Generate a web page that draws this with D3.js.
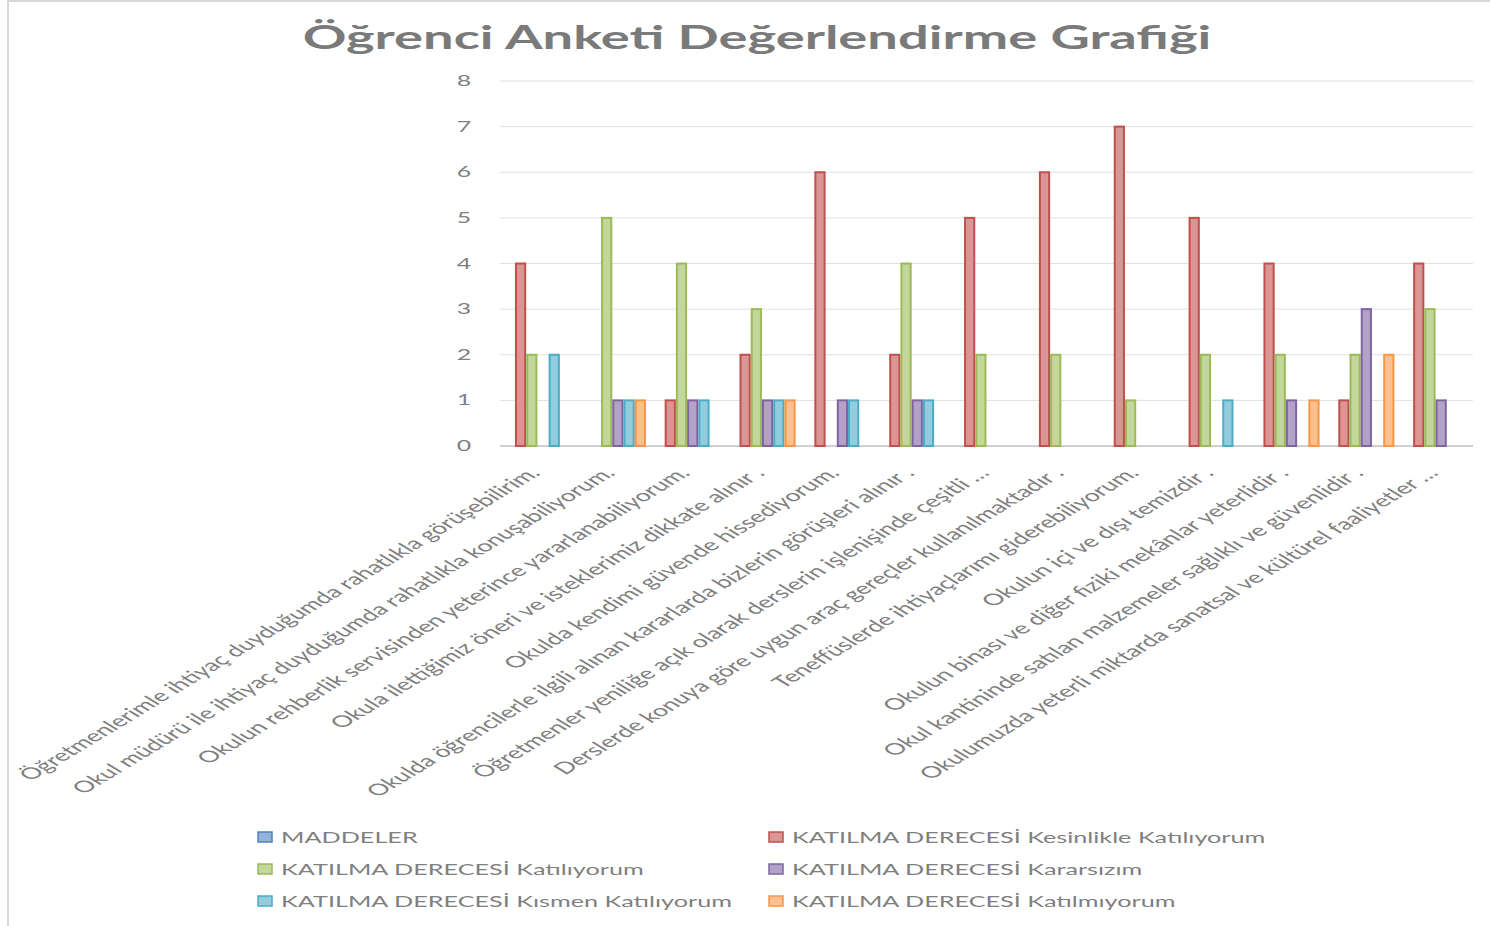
<!DOCTYPE html>
<html>
<head>
<meta charset="utf-8">
<script src="https://cdn.jsdelivr.net/npm/d3@7"></script>
<style>
  html, body { margin: 0; padding: 0; background: #fff; }
  svg { display: block; font-family: Lato, "Open Sans", sans-serif; }
</style>
</head>
<body>
<svg id="chart"></svg>
<script>
// DATA
const categories = [
  "Öğretmenlerimle ihtiyaç duyduğumda rahatlıkla görüşebilirim.",
  "Okul müdürü ile ihtiyaç duyduğumda rahatlıkla konuşabiliyorum.",
  "Okulun rehberlik servisinden yeterince yararlanabiliyorum.",
  "Okula ilettiğimiz öneri ve isteklerimiz dikkate alınır .",
  "Okulda kendimi güvende hissediyorum.",
  "Okulda öğrencilerle ilgili alınan kararlarda bizlerin görüşleri alınır .",
  "Öğretmenler yeniliğe açık olarak derslerin işlenişinde çeşitli …",
  "Derslerde konuya göre uygun araç gereçler kullanılmaktadır .",
  "Teneffüslerde ihtiyaçlarımı giderebiliyorum.",
  "Okulun içi ve dışı temizdir .",
  "Okulun binası ve diğer fiziki mekânlar yeterlidir .",
  "Okul kantininde satılan malzemeler  sağlıklı ve güvenlidir .",
  "Okulumuzda yeterli miktarda sanatsal ve kültürel faaliyetler …"
];
const seriesNames = [
  "MADDELER",
  "KATILMA DERECESİ Kesinlikle  Katılıyorum",
  "KATILMA DERECESİ Katılıyorum",
  "KATILMA DERECESİ Kararsızım",
  "KATILMA DERECESİ Kısmen  Katılıyorum",
  "KATILMA DERECESİ Katılmıyorum"
];
const maddeler      = [0, 0, 0, 0, 0, 0, 0, 0, 0, 0, 0, 0, 0];
const kesinlikle    = [4, 0, 1, 2, 6, 2, 5, 6, 7, 5, 4, 1, 4];
const katiliyorum   = [2, 5, 4, 3, 0, 4, 2, 2, 1, 2, 2, 2, 3];
const kararsizim    = [0, 1, 1, 1, 1, 1, 0, 0, 0, 0, 1, 3, 1];
const kismen        = [2, 1, 1, 1, 1, 1, 0, 0, 0, 1, 0, 0, 0];
const katilmiyorum  = [0, 1, 0, 1, 0, 0, 0, 0, 0, 0, 1, 2, 0];
const seriesValues = [maddeler, kesinlikle, katiliyorum, kararsizim, kismen, katilmiyorum];
const yTicks = [0, 1, 2, 3, 4, 5, 6, 7, 8];

// SETTINGS
const _width = 1490, _height = 926;
const _stretch = 1.66;
const _plot = {left: 500, right: 1473, top: 81, bottom: 446};
const _color = {
  text: '#7f7f7f',
  grid: '#d9d9d9',
  stroke: ['#4f81bd', '#c0504d', '#9bbb59', '#8064a2', '#4bacc6', '#f79646'],
  fill:   ['#95b3d7', '#d99694', '#c3d69b', '#b3a2c7', '#93cddd', '#fac090']
};

let svg = d3.select('#chart')
              .attr('width', _width)
              .attr('height', _height);

// BORDER
svg.append('line')
      .attr('x1', 8).attr('x2', 8)
      .attr('y1', 0).attr('y2', _height)
      .attr('stroke', _color.grid).attr('stroke-width', 2);
svg.append('line')
      .attr('x1', 8).attr('x2', _width)
      .attr('y1', 1).attr('y2', 1)
      .attr('stroke', _color.grid).attr('stroke-width', 2);

// TITLE
svg.append('text')
      .attr('transform', `translate(757, 49) scale(${_stretch}, 1)`)
      .attr('text-anchor', 'middle')
      .attr('font-size', 32.7)
      .attr('font-weight', 'bold')
      .attr('fill', '#7a7a7a')
      .text('Öğrenci Anketi Değerlendirme Grafiği');

// SCALES
let x0 = d3.scaleBand()
            .domain(d3.range(categories.length))
            .range([_plot.left, _plot.right])
            .paddingInner(0.1)
            .paddingOuter(0.05);
let x1 = d3.scaleBand()
            .domain(d3.range(seriesNames.length))
            .range([0, x0.bandwidth()]);
let y = d3.scaleLinear()
            .domain([0, 8])
            .range([_plot.bottom, _plot.top]);

// GRID
svg.append('g')
      .selectAll('line')
      .data(yTicks)
      .enter()
    .append('line')
      .attr('x1', _plot.left)
      .attr('x2', _plot.right)
      .attr('y1', d => y(d))
      .attr('y2', d => y(d))
      .attr('stroke', d => d == 0 ? '#d0d0d0' : '#e0e0e0')
      .attr('stroke-width', d => d == 0 ? 2 : 1);

svg.append('g')
      .selectAll('text')
      .data(yTicks)
      .enter()
    .append('text')
      .attr('transform', d => `translate(464, ${y(d) + 5}) scale(${_stretch}, 1)`)
      .attr('text-anchor', 'middle')
      .attr('font-size', 15)
      .attr('fill', _color.text)
      .text(d => d);

// BARS
let groups = svg.append('g')
                  .selectAll('g')
                  .data(categories)
                  .enter()
                .append('g')
                  .attr('transform', (d, i) => `translate(${x0(i)}, 0)`);
groups.selectAll('rect')
        .data((d, i) => seriesValues.map((s, k) => ({k: k, v: s[i]})).filter(e => e.v > 0))
        .enter()
      .append('rect')
        .attr('x', d => x1(d.k) + 1)
        .attr('y', d => y(d.v))
        .attr('width', x1.bandwidth() - 2)
        .attr('height', d => y(0) - y(d.v))
        .attr('fill', d => _color.fill[d.k])
        .attr('stroke', d => _color.stroke[d.k])
        .attr('stroke-width', 2);

// CATEGORY LABELS
svg.append('g')
      .selectAll('text')
      .data(categories)
      .enter()
    .append('text')
      .attr('transform', (d, i) => `translate(${x0(i) + x0.bandwidth() / 2 + 4}, 474) scale(${_stretch}, 1) rotate(-45)`)
      .attr('text-anchor', 'end')
      .attr('font-size', 16.2)
      .attr('fill', _color.text)
      .text(d => d);

// LEGEND
let legend = svg.append('g')
                  .selectAll('g')
                  .data(seriesNames)
                  .enter()
                .append('g')
                  .attr('transform', (d, i) => `translate(${i % 2 == 0 ? 258 : 769}, ${837 + Math.floor(i / 2) * 32})`);
legend.append('rect')
        .attr('x', 0)
        .attr('y', -5)
        .attr('width', 14)
        .attr('height', 10)
        .attr('fill', (d, i) => _color.fill[i])
        .attr('stroke', (d, i) => _color.stroke[i])
        .attr('stroke-width', 1.5);
legend.append('text')
        .attr('transform', `translate(23, 6) scale(${_stretch}, 1)`)
        .attr('font-size', 15.2)
        .attr('fill', _color.text)
        .text(d => d);
</script>
</body>
</html>
